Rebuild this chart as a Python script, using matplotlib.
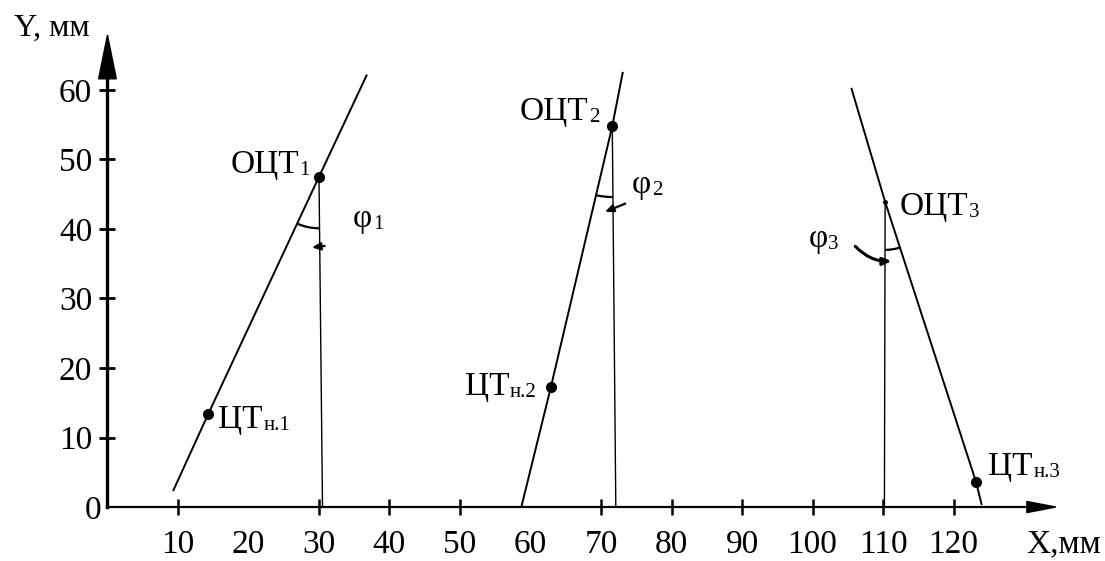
import numpy as np
import matplotlib
matplotlib.use("Agg")
import matplotlib.pyplot as plt
from matplotlib.patches import Arc, Polygon

plt.rcParams["font.family"] = ["Liberation Serif", "DejaVu Serif"]

# values (mm)
x_ticks = [10, 20, 30, 40, 50, 60, 70, 80, 90, 100, 110, 120]
y_ticks = [0, 10, 20, 30, 40, 50, 60]

# inclined lines: bottom end, ЦТн point, ОЦТ point, top end
bottom_x = [9.3, 58.7, 124.0]
bottom_y = [2.3, 0.0, 0.3]
ctn_x = [14.3, 62.9, 123.2]
ctn_y = [13.4, 17.3, 3.6]
oct_x = [30.0, 71.6, 110.3]
oct_y = [47.5, 54.8, 43.9]
top_x = [36.8, 73.1, 105.5]
top_y = [62.2, 62.6, 60.3]
# verticals dropped from ОЦТ to the X axis
vert_bottom_x = [30.5, 72.1, 110.2]

oct_main, oct_sub = "ОЦТ", ["1", "2", "3"]
ctn_main, ctn_sub = "ЦТ", ["н.1", "н.2", "н.3"]
phi_main, phi_sub = "φ", ["1", "2", "3"]

FS = 24
SUB = 15

fig = plt.figure(figsize=(11.05, 5.61), dpi=100)
ax = fig.add_axes([0.0845, 0.0838, 0.8805, 0.855])
ax.set_xlim(-2, 136)
ax.set_ylim(-1, 68)

for s in ["top", "right"]:
    ax.spines[s].set_visible(False)
ax.spines["left"].set_position(("data", 0))
ax.spines["bottom"].set_position(("data", 0))
ax.spines["left"].set_bounds(0, 62)
ax.spines["bottom"].set_bounds(0, 131)
ax.spines["left"].set_linewidth(2.4)
ax.spines["bottom"].set_linewidth(1.6)

# arrow heads of the axes
ax.add_patch(Polygon([(0, 67.9), (-1.25, 61.6), (1.25, 61.6)], closed=True,
                     color="black", clip_on=False))
ax.add_patch(Polygon([(134.5, 0), (130.4, 0.8), (130.4, -0.8)], closed=True,
                     color="black", clip_on=False))

ax.set_xticks(x_ticks)
ax.set_yticks(y_ticks[1:])
ax.tick_params(axis="y", direction="inout", length=12, width=2, labelsize=FS, pad=5)
ax.tick_params(axis="x", direction="inout", length=11, width=1.8, labelsize=FS, pad=11)
for i, t in enumerate(ax.xaxis.get_major_ticks()):
    if x_ticks[i] in (20, 60):
        t.tick1line.set_visible(False)
ax.text(-0.9, 0, "0", fontsize=FS, ha="right", va="center_baseline")

ax.text(-7.9, 68.9, "Y, мм", fontsize=FS - 1, ha="center", va="center", clip_on=False)
ax.text(130.3, -5.3, "X,мм", fontsize=FS, ha="left", va="center", clip_on=False)

for i in range(3):
    xs = [bottom_x[i], ctn_x[i], oct_x[i], top_x[i]]
    ys = [bottom_y[i], ctn_y[i], oct_y[i], top_y[i]]
    ax.plot(xs, ys, color="black", lw=1.4, solid_capstyle="butt")
    ax.plot([oct_x[i], vert_bottom_x[i]], [oct_y[i], 0], color="black", lw=1.0)
    ax.plot(ctn_x[i], ctn_y[i], "o", color="black", ms=7)
    ax.plot(oct_x[i], oct_y[i], "o", color="black", ms=7 if i < 2 else 2.5)

# angle arcs between inclined line and vertical
radii = [7.4, 10.2, 6.9]
for i in range(3):
    a_line = np.degrees(np.arctan2(bottom_y[i] - oct_y[i], bottom_x[i] - oct_x[i]))
    a_vert = np.degrees(np.arctan2(-oct_y[i], vert_bottom_x[i] - oct_x[i]))
    t1, t2 = sorted([a_line, a_vert])
    ax.add_patch(Arc((oct_x[i], oct_y[i]), 2 * radii[i], 2 * radii[i],
                     theta1=t1, theta2=t2, color="black", lw=1.6))


def label(x, y, main, sub, dx=0.5):
    t = ax.text(x, y, main, fontsize=FS, ha="left", va="baseline")
    ax.annotate(sub, xy=(1, 0), xycoords=t, xytext=(dx, 0), textcoords="offset points",
                fontsize=SUB, ha="left", va="bottom")


# labels
oct_lab_pos = [(17.4, 48.0), (58.5, 55.7), (112.4, 42.0)]
ctn_lab_pos = [(15.7, 11.4), (50.7, 16.1), (124.9, 4.6)]
phi_lab_pos = [(34.8, 40.3), (74.4, 45.2), (99.4, 37.4)]
for i in range(3):
    label(*oct_lab_pos[i], oct_main, oct_sub[i])
    label(*ctn_lab_pos[i], ctn_main, ctn_sub[i])
    label(*phi_lab_pos[i], phi_main, phi_sub[i])

# small arrows pointing to the angles
arrow_kw = dict(arrowstyle="-|>,head_length=0.5,head_width=0.22", color="black", lw=1.6)
ax.annotate("", xy=(28.6, 37.3), xytext=(31.2, 37.6), arrowprops=arrow_kw)
ax.annotate("", xy=(70.2, 42.3), xytext=(73.8, 43.8), arrowprops=arrow_kw)
ax.annotate("", xy=(111.6, 35.4), xytext=(105.8, 37.8),
            arrowprops=dict(arrow_kw, lw=2.2, connectionstyle="arc3,rad=0.25"))

fig.savefig("out.png", dpi=100)
